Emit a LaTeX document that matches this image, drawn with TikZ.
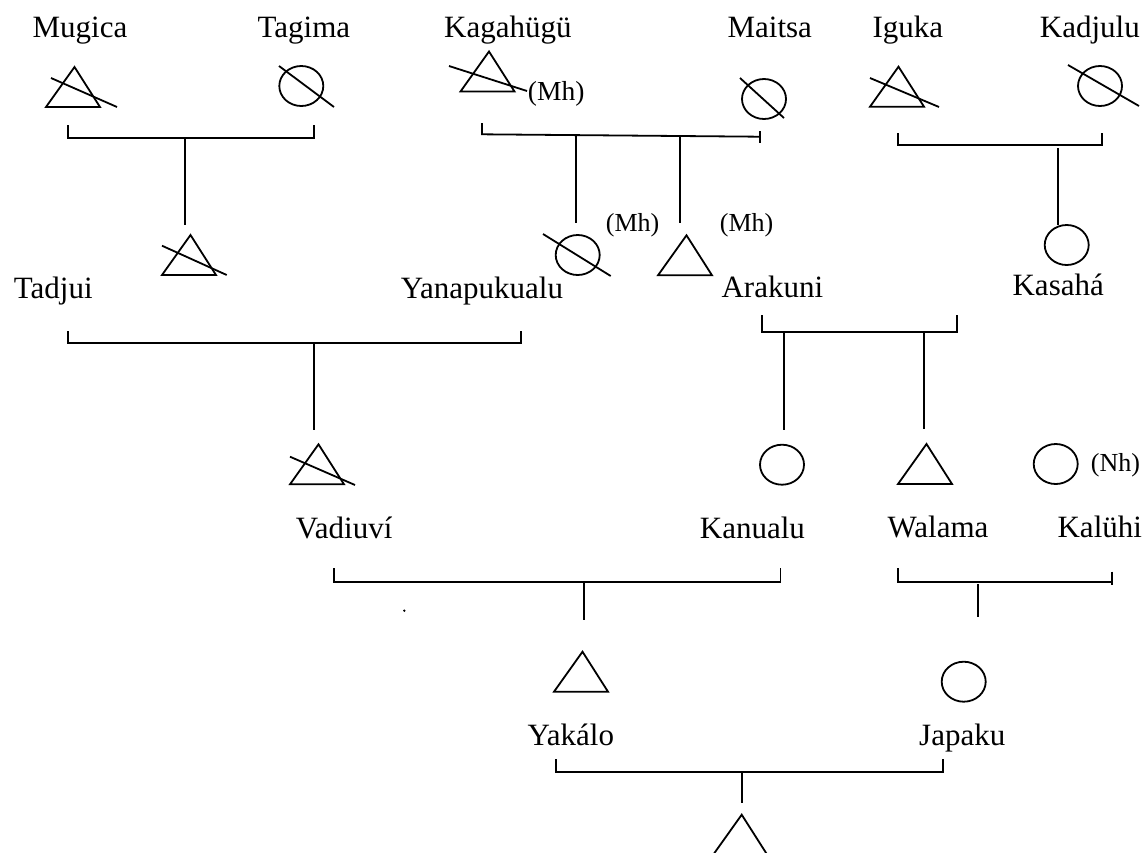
\documentclass[tikz,border=0pt]{standalone}
\usepackage{fontspec}
\setmainfont{Liberation Serif}
\tikzset{
  lbl/.style={font=\fontsize{31}{37}\selectfont, inner sep=0pt, anchor=base west},
  note/.style={font=\fontsize{26}{30}\selectfont, inner sep=0pt, anchor=base west},
  male/.pic={\draw (-27,20) -- (1.5,-20) -- (27,20) -- cycle;},
  female/.pic={\draw (0,0) ellipse [x radius=22pt, y radius=20pt];},
}
\begin{document}
\begin{tikzpicture}[x=1pt,y=-1pt,line width=1.8pt]
\useasboundingbox (0,0) rectangle (1145,852);
\clip (0,0) rectangle (1145,852);

% ---------- labels ----------
\node[lbl] (mugica) at (31.7,37) {Mugica};
\node[lbl] (tagima) at (256.7,37) {Tagima};
\node[lbl] (kagahugu) at (443.3,37) {Kagahügü};
\node[lbl] (maitsa) at (726.7,37) {Maitsa};
\node[lbl] (iguka) at (871.7,37) {Iguka};
\node[lbl] (kadjulu) at (1039,37) {Kadjulu};
\node[note,font=\fontsize{27.5}{32}\selectfont] (mh1) at (527,100) {(Mh)};

\node[lbl] (tadjui) at (13,298) {Tadjui};
\node[lbl] (yana) at (400,298) {Yanapukualu};
\node[lbl] (arakuni) at (720.7,297.7) {Arakuni};
\node[lbl] (kasaha) at (1011.7,295.7) {Kasahá};
\node[note] (mh2) at (605,231.7) {(Mh)};
\node[note] (mh3) at (719,231.7) {(Mh)};

\node[lbl] (vadiuvi) at (295,538) {Vadiuví};
\node[lbl] (kanualu) at (699,538) {Kanualu};
\node[lbl] (walama) at (886.7,537.7) {Walama};
\node[lbl] (kaluhi) at (1056.7,537.7) {Kalühi};
\node[note] (nh) at (1090,471.7) {(Nh)};

\node[lbl] (yakalo) at (526.7,745) {Yakálo};
\node[lbl] (japaku) at (918.3,745) {Japaku};

% ---------- symbols ----------
\coordinate (sMugica) at (73,87);
\coordinate (sTagima) at (301.3,86);
\coordinate (sKaga) at (487.5,71.5);
\coordinate (sMaitsa) at (764,99);
\coordinate (sIguka) at (897,86.7);
\coordinate (sKadjulu) at (1100,86);
\coordinate (sTadjui) at (189,255);
\coordinate (sYana) at (577.7,255);
\coordinate (sArakuni) at (685,255.3);
\coordinate (sKasaha) at (1066.7,245);
\coordinate (sVadiuvi) at (317,464.3);
\coordinate (sKanualu) at (782,464.7);
\coordinate (sWalama) at (925,464);
\coordinate (sKaluhi) at (1055.7,464);
\coordinate (sYakalo) at (581,671.7);
\coordinate (sJapaku) at (963.7,681.7);
\coordinate (sChild) at (740.2,834.7);

\pic at (sMugica) {male};
\pic at (sTagima) {female};
\pic at (sKaga) {male};
\pic at (sMaitsa) {female};
\pic at (sIguka) {male};
\pic at (sKadjulu) {female};
\pic at (sTadjui) {male};
\pic at (sYana) {female};
\pic at (sArakuni) {male};
\pic at (sKasaha) {female};
\pic at (sVadiuvi) {male};
\pic at (sKanualu) {female};
\pic at (sWalama) {male};
\pic at (sKaluhi) {female};
\pic at (sYakalo) {male};
\pic at (sJapaku) {female};
\pic at (sChild) {male};

% strike-through lines (deceased)
\draw (51,78) -- (117,107);
\draw (279,66) -- (334,107);
\draw (449,66) -- (527,91);
\draw (740,78) -- (784,118);
\draw (870,78) -- (939,107);
\draw (1068,65) -- (1139,106);
\draw (162,245.7) -- (226.7,275);
\draw (543,234) -- (610.7,276);
\draw (290,456.7) -- (355,485);

% stray dot
\fill (404.3,610.7) circle [radius=1.3pt];

% ---------- brackets and stems ----------
% Mugica + Tagima
\coordinate (b1a) at (68,125); \coordinate (b1b) at (68,138);
\coordinate (b1c) at (314,138); \coordinate (b1d) at (314,125);
\coordinate (b1m) at (185,138); \coordinate (b1e) at (185,225);
\draw (b1a) -- (b1b) -- (b1c) -- (b1d);
\draw (b1m) -- (b1e);

% Kagahugu + Maitsa
\coordinate (b3a) at (482,123); \coordinate (b3b) at (482,134.3);
\coordinate (b3c) at (760,136.7);
\coordinate (b3t1) at (760,131); \coordinate (b3t2) at (760,143);
\coordinate (b3m1) at (576,135.5); \coordinate (b3e1) at (576,223);
\coordinate (b3m2) at (680,136); \coordinate (b3e2) at (680,223);
\draw (b3a) -- (b3b) -- (b3c);
\draw (b3t1) -- (b3t2);
\draw (b3m1) -- (b3e1);
\draw (b3m2) -- (b3e2);

% Iguka + Kadjulu
\coordinate (b4a) at (898,133); \coordinate (b4b) at (898,145);
\coordinate (b4c) at (1102,145); \coordinate (b4d) at (1102,133);
\coordinate (b4m) at (1058,148); \coordinate (b4e) at (1058,225);
\draw (b4a) -- (b4b) -- (b4c) -- (b4d);
\draw (b4m) -- (b4e);

% Tadjui + Yanapukualu
\coordinate (b2a) at (68,331); \coordinate (b2b) at (68,343.3);
\coordinate (b2c) at (520.7,343.3); \coordinate (b2d) at (520.7,331);
\coordinate (b2m) at (314,343.3); \coordinate (b2e) at (314,430);
\draw (b2a) -- (b2b) -- (b2c) -- (b2d);
\draw (b2m) -- (b2e);

% Arakuni + Kasaha
\coordinate (b5a) at (762.3,315); \coordinate (b5b) at (762.3,331.7);
\coordinate (b5c) at (956.7,331.7); \coordinate (b5d) at (956.7,315);
\coordinate (b5m1) at (784,331.7); \coordinate (b5e1) at (784,430);
\coordinate (b5m2) at (924.3,331.7); \coordinate (b5e2) at (924.3,429);
\draw (b5a) -- (b5b) -- (b5c) -- (b5d);
\draw (b5m1) -- (b5e1);
\draw (b5m2) -- (b5e2);

% Vadiuvi + Kanualu
\coordinate (b6a) at (334,568); \coordinate (b6b) at (334,581.7);
\coordinate (b6c) at (780.5,581.7); \coordinate (b6d) at (780.5,568);
\coordinate (b6m) at (584,581.7); \coordinate (b6e) at (584,620);
\draw (b6a) -- (b6b) -- (b6c) -- (b6d);
\draw (b6m) -- (b6e);

% Walama + Kaluhi
\coordinate (b7a) at (898,568); \coordinate (b7b) at (898,581.7);
\coordinate (b7c) at (1112,581.7);
\coordinate (b7t1) at (1112,571.7); \coordinate (b7t2) at (1112,585);
\coordinate (b7m) at (978,584); \coordinate (b7e) at (978,616.7);
\draw (b7a) -- (b7b) -- (b7c);
\draw (b7t1) -- (b7t2);
\draw (b7m) -- (b7e);

% Yakalo + Japaku
\coordinate (b8a) at (556,759.3); \coordinate (b8b) at (556,771.7);
\coordinate (b8c) at (942.7,771.7); \coordinate (b8d) at (942.7,759.3);
\coordinate (b8m) at (742,771.7); \coordinate (b8e) at (742,803.3);
\draw (b8a) -- (b8b) -- (b8c) -- (b8d);
\draw (b8m) -- (b8e);
\end{tikzpicture}
\end{document}
